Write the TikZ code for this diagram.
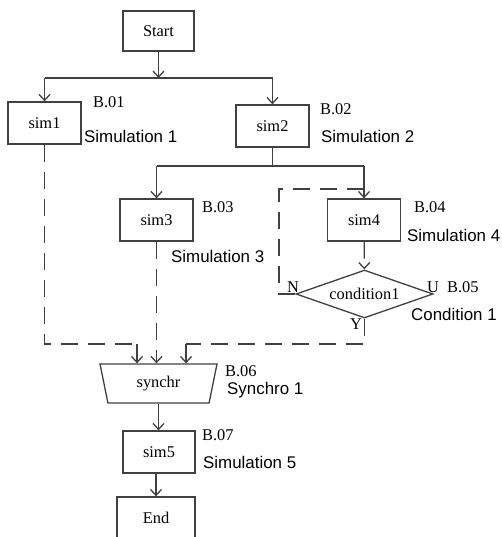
\documentclass[tikz,border=0pt]{standalone}
\usepackage{fontspec}
\setmainfont{Liberation Serif}
\newfontfamily\labelfont{Liberation Sans}
\usetikzlibrary{arrows.meta,shapes.geometric}

\tikzset{
  line/.style={draw=black!75, line width=1.3pt},
  arr/.style={line, -{Straight Barb[length=6pt,width=11pt]}},
  dline/.style={line, dash pattern=on 17pt off 10pt},
  box/.style={draw=black!75, line width=1.3pt, minimum width=73pt,
    minimum height=42pt, inner sep=0pt, font=\fontsize{16.4}{19}\selectfont},
  tag/.style={anchor=west, inner sep=0pt, font=\fontsize{16.4}{19}\selectfont},
  desc/.style={anchor=west, inner sep=0pt, font=\labelfont\fontsize{16.9}{20}\selectfont},
}

\begin{document}
\begin{tikzpicture}[x=1pt,y=-1pt]
  \useasboundingbox (0,0) rectangle (501,537);

  % blocks
  \node [box, minimum width=71pt, minimum height=40pt] (start) at (158.5,31) {Start};
  \node [box] (sim1) at (44.5,123) {sim1};
  \node [box] (sim2) at (272.5,126) {sim2};
  \node [box] (sim3) at (156.5,220) {sim3};
  \node [box] (sim4) at (364,220) {sim4};
  \node [box, diamond, aspect=2.85, minimum width=137pt, minimum height=48pt] (cond) at (364.5,294) {condition1};
  \node [box, trapezium, trapezium stretches body, shape border rotate=180,
    trapezium angle=62, minimum width=117pt, minimum height=39pt] (sync) at (158.5,383.5) {synchr};
  \node [box, minimum width=72pt] (sim5) at (159,452) {sim5};
  \node [box, minimum width=78pt] (end) at (156,518) {End};

  % labels
  \node [tag] (t1) at (93,102) {B.01};
  \node [desc] (d1) at (84,136) {Simulation 1};
  \node [tag] (t2) at (320,109) {B.02};
  \node [desc] (d2) at (321,136) {Simulation 2};
  \node [tag] (t3) at (202,207) {B.03};
  \node [desc] (d3) at (171,256) {Simulation 3};
  \node [tag] (t4) at (414,207) {B.04};
  \node [desc] (d4) at (407,235) {Simulation 4};
  \node [tag] (t5) at (447,287) {B.05};
  \node [desc] (d5) at (411,314) {Condition 1};
  \node [tag] (t6) at (225,371) {B.06};
  \node [desc] (d6) at (227,390) {Synchro 1};
  \node [tag] (t7) at (202,435) {B.07};
  \node [desc] (d7) at (203,462) {Simulation 5};
  \node [tag, anchor=center] (no) at (293,287) {N};
  \node [tag, anchor=center] (un) at (433,287) {U};
  \node [tag, anchor=center] (yes) at (356,324) {Y};

  % forks
  \coordinate (fork1) at (158.5,78);
  \coordinate (fork2) at (272.5,166);
  \draw [arr] (start) -- (fork1);
  \draw [line] (fork1 -| sim1) -- (fork1 -| sim2);
  \draw [arr] (fork1 -| sim1) -- (sim1);
  \draw [arr] (fork1 -| sim2) -- (sim2);
  \draw [line] (sim2) -- (fork2);
  \draw [line] (fork2 -| sim3) -- (fork2 -| sim4);
  \draw [arr] (fork2 -| sim3) -- (sim3);
  \draw [arr] (fork2 -| sim4) -- (sim4);

  % condition
  \coordinate (nback) at (279,189);
  \draw [arr, dline] (sim4) -- (cond);
  \draw [dline] (cond.west) -| (nback) -- (nback -| sim4);

  % synchronisation
  \coordinate (yjoin) at (186,344);
  \coordinate (s1join) at (137,344);
  \draw [dline] (cond.south) |- (yjoin);
  \draw [arr] (yjoin) -- (yjoin |- sync.north);
  \draw [dline] (sim1) |- (s1join);
  \draw [arr] (s1join) -- (s1join |- sync.north);
  \draw [arr, dline] (sim3) -- (sim3 |- sync.north);
  \draw [arr] (sync.south) -- (sync.south |- sim5.north);
  \draw [arr] (end.north |- sim5.south) -- (end);
\end{tikzpicture}
\end{document}
